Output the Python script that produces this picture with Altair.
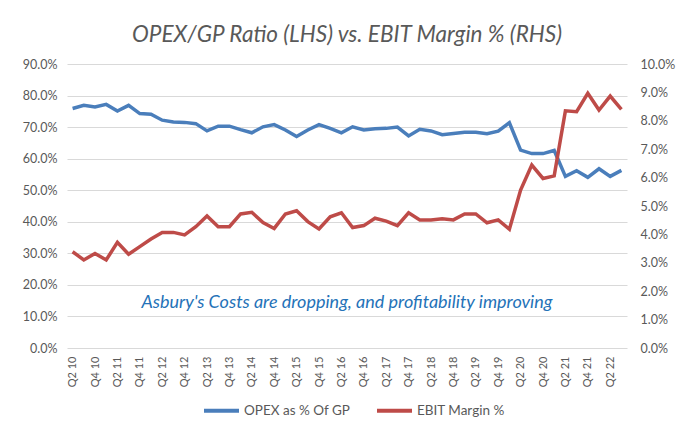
import altair as alt
import pandas as pd

quarters = [
    "Q2 10", "Q3 10", "Q4 10", "Q1 11", "Q2 11", "Q3 11", "Q4 11", "Q1 12", "Q2 12", "Q3 12",
    "Q4 12", "Q1 13", "Q2 13", "Q3 13", "Q4 13", "Q1 14", "Q2 14", "Q3 14", "Q4 14", "Q1 15",
    "Q2 15", "Q3 15", "Q4 15", "Q1 16", "Q2 16", "Q3 16", "Q4 16", "Q1 17", "Q2 17", "Q3 17",
    "Q4 17", "Q1 18", "Q2 18", "Q3 18", "Q4 18", "Q1 19", "Q2 19", "Q3 19", "Q4 19", "Q1 20",
    "Q2 20", "Q3 20", "Q4 20", "Q1 21", "Q2 21", "Q3 21", "Q4 21", "Q1 22", "Q2 22", "Q3 22",
]

opex_pct = [
    75.9, 76.9, 76.4, 77.2, 75.1, 76.9, 74.3, 74.1, 72.2, 71.6,
    71.5, 71.1, 68.8, 70.3, 70.3, 69.2, 68.2, 70.1, 70.8, 69.1,
    67.0, 69.1, 70.8, 69.6, 68.2, 70.1, 69.1, 69.5, 69.6, 70.0,
    67.2, 69.3, 68.8, 67.6, 68.0, 68.4, 68.4, 67.9, 68.7, 71.4,
    62.7, 61.6, 61.6, 62.6, 54.4, 56.2, 54.1, 56.8, 54.4, 56.3,
]

ebit_pct = [
    3.39, 3.10, 3.33, 3.10, 3.72, 3.30, 3.57, 3.84, 4.07, 4.07,
    3.98, 4.27, 4.65, 4.27, 4.27, 4.72, 4.78, 4.42, 4.21, 4.72,
    4.83, 4.45, 4.19, 4.62, 4.76, 4.24, 4.31, 4.57, 4.47, 4.31,
    4.76, 4.51, 4.51, 4.55, 4.51, 4.72, 4.72, 4.41, 4.51, 4.18,
    5.56, 6.44, 5.97, 6.06, 8.35, 8.32, 8.97, 8.38, 8.87, 8.40,
]

left_ticks = [0.0, 0.1, 0.2, 0.3, 0.4, 0.5, 0.6, 0.7, 0.8, 0.9]
right_ticks = [0.0, 0.01, 0.02, 0.03, 0.04, 0.05, 0.06, 0.07, 0.08, 0.09, 0.10]
series_names = ["OPEX as % Of GP", "EBIT Margin %"]
series_colors = ["#4A7EBB", "#BE4B48"]
title_text = "OPEX/GP Ratio (LHS) vs. EBIT Margin % (RHS)"
note_text = "Asbury's Costs are dropping, and profitability improving"

df = pd.DataFrame({
    "q": quarters,
    "opex": [v / 100 for v in opex_pct],
    "ebit": [v / 100 for v in ebit_pct],
})

FONT = "Lato"
GREY = "#595959"

x_enc = alt.X(
    "q:N", sort=quarters, title=None,
    scale=alt.Scale(padding=0.5),
    axis=alt.Axis(values=quarters[::2], labelAngle=-90, labelFontSize=11,
                  labelColor=GREY, labelFont=FONT, domain=False, ticks=False,
                  labelPadding=8, grid=False),
)

color_scale = alt.Scale(domain=series_names, range=series_colors)
legend = alt.Legend(
    title=None, orient="none", legendX=135, legendY=327, direction="horizontal",
    symbolType="stroke", symbolStrokeWidth=4, symbolSize=1225,
    labelFontSize=13.5, labelColor=GREY, labelFont=FONT, columnPadding=18, labelOffset=3,
)

base = alt.Chart(df)

opex_line = base.mark_line(strokeWidth=3.5).encode(
    x=x_enc,
    y=alt.Y("opex:Q", title=None,
            scale=alt.Scale(domain=[0, 0.9], nice=False, zero=True),
            axis=alt.Axis(orient="left", values=left_ticks, format=".1%", grid=True,
                          gridColor="#D9D9D9", gridWidth=1, domain=False, ticks=False,
                          labelPadding=10, labelFontSize=12.5, labelColor=GREY, labelFont=FONT)),
    color=alt.Color("s:N", scale=color_scale, legend=legend),
).transform_calculate(s="'OPEX as % Of GP'")

ebit_line = base.mark_line(strokeWidth=3.5).encode(
    x=x_enc,
    y=alt.Y("ebit:Q", title=None,
            scale=alt.Scale(domain=[0, 0.10], nice=False, zero=True),
            axis=alt.Axis(orient="right", values=right_ticks, format=".1%", grid=False,
                          domain=False, ticks=False, labelPadding=13, labelFontSize=12.5,
                          labelColor=GREY, labelFont=FONT)),
    color=alt.Color("s:N", scale=color_scale, legend=legend),
).transform_calculate(s="'EBIT Margin %'")

note = alt.Chart(pd.DataFrame({"t": [note_text]})).mark_text(
    font=FONT, fontSize=18, fontStyle="italic", color="#2472B8", align="center", baseline="middle"
).encode(text="t:N", x=alt.value(280), y=alt.value(239))

chart = alt.layer(opex_line, ebit_line, note).resolve_scale(y="independent").properties(
    width=560, height=284,
    title=alt.TitleParams(title_text, font=FONT, fontSize=22.5, fontStyle="italic",
                          fontWeight="normal", color=GREY, anchor="middle", offset=12),
    autosize=alt.AutoSizeParams(type="none"),
    padding={"left": 59, "top": 56, "right": 58, "bottom": 90},
).configure_view(stroke=None)

chart.save("out.html", embed_options={"renderer": "svg", "actions": False})
